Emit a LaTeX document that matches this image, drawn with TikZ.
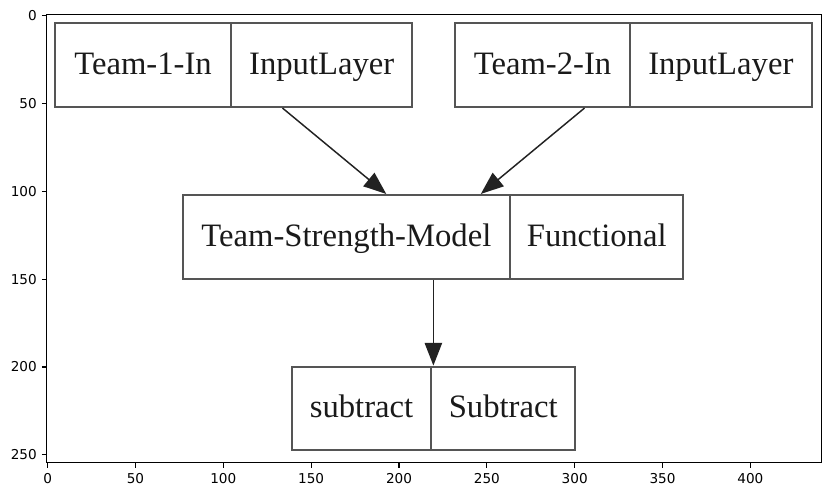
\documentclass[tikz,border=0pt]{standalone}
\usepackage{fontspec}
\setmainfont{Liberation Serif}
\newfontfamily\tickfont{DejaVu Sans}
\usetikzlibrary{arrows.meta,calc}
\definecolor{boxgray}{HTML}{555555}
\definecolor{txtgray}{HTML}{1A1A1A}
\definecolor{arrgray}{HTML}{222222}
\begin{document}
\begin{tikzpicture}[x=0.75pt,y=-0.75pt,
  cell/.style={draw=boxgray,line width=1.6pt,rectangle,inner sep=0pt,
    minimum height=63pt,font=\fontsize{24.5}{28}\selectfont,text=txtgray,
    text height=17pt,text depth=3.5pt},
  conn/.style={draw=arrgray,line width=1.1pt,
    -{Triangle[length=17pt,width=13pt]}},
  frame/.style={draw=black,line width=0.8pt},
  tick/.style={draw=black,line width=0.8pt},
  ticklab/.style={font=\tickfont\fontsize{10.2}{12}\selectfont,inner sep=0pt}]
\useasboundingbox (0,0) rectangle (831,497);
% boxes
\node[cell,minimum width=132pt] (t1) at (143,65) {Team-1-In};
\node[cell,minimum width=135.75pt] (l1) at (321.7,65) {InputLayer};
\node[cell,minimum width=131.25pt] (t2) at (542.5,65) {Team-2-In};
\node[cell,minimum width=136.5pt] (l2) at (720.8,65) {InputLayer};
\node[cell,minimum width=245.5pt] (tsm) at (346.4,237) {Team-Strength-Model};
\node[cell,minimum width=130pt] (fn) at (596.7,237) {Functional};
\node[cell,minimum width=104pt,minimum height=62.5pt] (sb) at (361.5,408.3) {subtract};
\node[cell,minimum width=108pt,minimum height=62.5pt] (Sb) at (503.2,408.3) {Subtract};
% connectors
\draw[conn] ($(l1.south west)!0.286!(l1.south east)$) -- ($(tsm.north west)!0.621!(tsm.north east)$);
\draw[conn] ($(t2.south west)!0.737!(t2.south east)$) -- ($(tsm.north west)!0.908!(tsm.north east)$);
\coordinate (v3) at ($(tsm.south west)!0.764!(tsm.south east)$);
\draw[conn] (v3) -- (v3 |- Sb.north);
% axes frame
\draw[frame] (46.7,14.7) rectangle (821.3,462.7);
% x ticks
\foreach \v in {0,50,...,400}{
  \pgfmathsetmacro{\px}{46.7+(\v+0.5)*1.757}
  \draw[tick] (\px,462.7) -- (\px,467.6);
  \node[ticklab,anchor=north] at (\px,473) {\v};
}
% y ticks
\foreach \v in {0,50,...,250}{
  \pgfmathsetmacro{\py}{14.7+(\v+0.5)*1.757}
  \draw[tick] (41.8,\py) -- (46.7,\py);
  \node[ticklab,anchor=east] at (37,\py) {\v};
}
\end{tikzpicture}
\end{document}
